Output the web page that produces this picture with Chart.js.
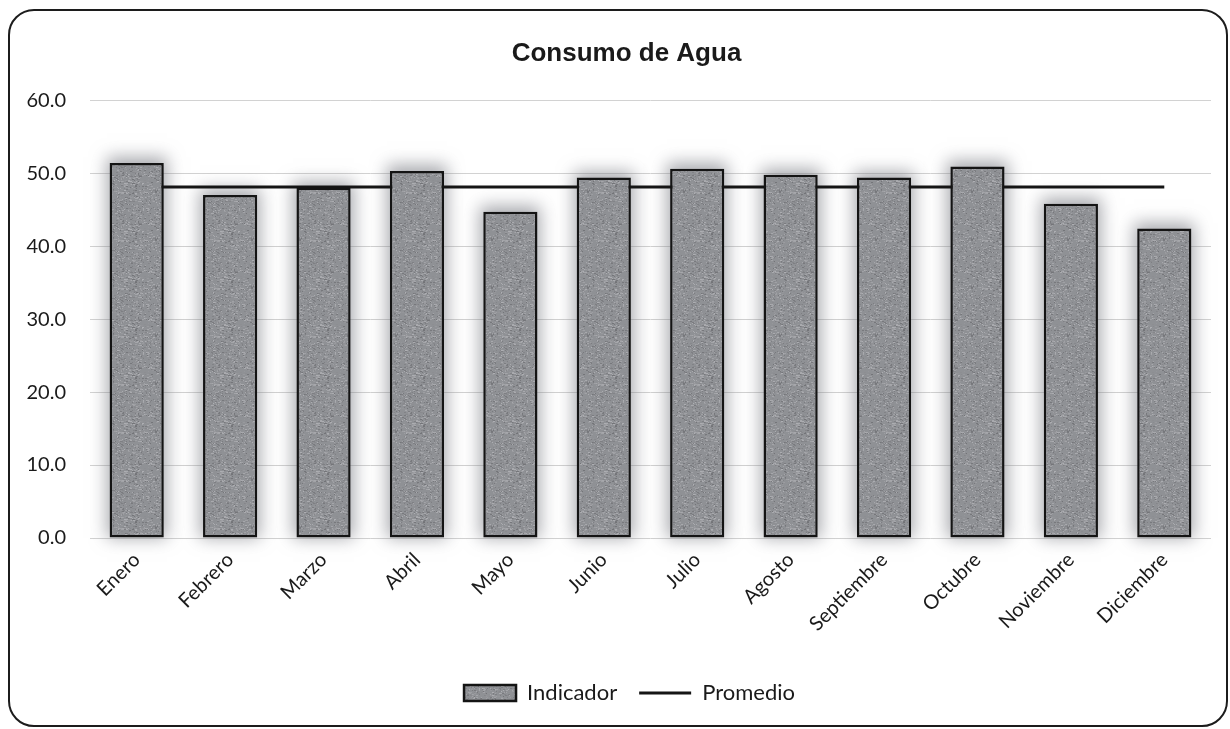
<!DOCTYPE html>
<html>
<head>
<meta charset="utf-8">
<script src="https://cdn.jsdelivr.net/npm/chart.js@4"></script>
<style>
    html, body { margin: 0; padding: 0; background: #fff; }
    #wrap { position: relative; width: 1230px; height: 729px; overflow: hidden; }
    #frame {
        position: absolute; left: 8px; top: 9px; width: 1216px; height: 714px;
        border: 2px solid #1c1c1c; border-radius: 26px; pointer-events: none;
    }
    canvas { position: absolute; left: 0; top: 0; }
</style>
</head>
<body>
<div id="wrap">
    <canvas id="chart" width="1230" height="729"></canvas>
    <div id="frame"></div>
</div>
<script>
const months = ["Enero", "Febrero", "Marzo", "Abril", "Mayo", "Junio", "Julio", "Agosto", "Septiembre", "Octubre", "Noviembre", "Diciembre"];
const indicador = [51.4, 47.0, 48.0, 50.3, 44.7, 49.4, 50.6, 49.8, 49.4, 50.9, 45.8, 42.4];
const promedio = [48.1, 48.1, 48.1, 48.1, 48.1, 48.1, 48.1, 48.1, 48.1, 48.1, 48.1, 48.1];
const yTicks = [0, 10, 20, 30, 40, 50, 60];

const tickFont = { family: "Lato", size: 20 };

// grainy grey fill, the original is a scanned print
function grain() {
    const c = document.createElement("canvas");
    c.width = c.height = 48;
    const g = c.getContext("2d");
    g.fillStyle = "#8f9195";
    g.fillRect(0, 0, 48, 48);
    let s = 7;
    const next = () => (s = (s * 16807) % 2147483647);
    for (let i = 0; i < 800; i++) {
        const x = next() % 48, y = next() % 48, v = 115 + next() % 60;
        g.fillStyle = `rgb(${v},${v + 1},${v + 5})`;
        g.fillRect(x, y, 1 + next() % 2, 1);
    }
    return g.createPattern(c, "repeat");
}
const barFill = grain();

// soft grey glow behind the bars (bar elements clip their own shadow)
const barGlow = {
    id: "barGlow",
    beforeDatasetsDraw(chart) {
        const ctx = chart.ctx;
        chart.getSortedVisibleDatasetMetas().forEach(meta => {
            if (meta.type !== "bar") return;
            meta.data.forEach(bar => {
                const p = bar.getProps(["x", "y", "base", "width"], true);
                ctx.save();
                ctx.shadowColor = "rgba(110,112,120,0.6)";
                ctx.shadowBlur = 16;
                ctx.shadowOffsetX = 10000;
                ctx.fillStyle = "#000";
                ctx.fillRect(p.x - p.width / 2 - 10000 - 3, p.y - 6, p.width + 6, p.base - p.y + 6);
                ctx.restore();
            });
        });
    }
};

// title and legend sit a bit right of the canvas centre in the original
const nudge = {
    id: "nudge",
    afterLayout(chart) {
        chart.titleBlock.left += 21;
        chart.titleBlock.right += 21;
        chart.legend.left += 24;
        chart.legend.right += 24;
    }
};

new Chart(document.getElementById("chart"), {
    type: "bar",
    data: {
        labels: months,
        datasets: [
            {
                label: "Indicador",
                data: indicador,
                backgroundColor: barFill,
                borderColor: "#141414",
                borderWidth: 2.5,
                borderSkipped: false,
                categoryPercentage: 1,
                barPercentage: 0.58,
                pointStyle: "rect",
                order: 1
            },
            {
                type: "line",
                label: "Promedio",
                data: promedio,
                borderColor: "#151515",
                backgroundColor: "#151515",
                borderWidth: 3,
                pointRadius: 0,
                pointStyle: "line",
                order: 2
            }
        ]
    },
    options: {
        responsive: false,
        animation: false,
        layout: { padding: { top: 20, right: 19, left: 0, bottom: 15 } },
        plugins: {
            title: {
                display: true,
                text: "Consumo de Agua",
                color: "#1a1a1a",
                font: { family: "Liberation Sans", size: 26, weight: "bold" },
                padding: { top: 18, bottom: 31 }
            },
            legend: {
                position: "bottom",
                labels: {
                    usePointStyle: true,
                    pointStyleWidth: 52,
                    boxHeight: 16,
                    color: "#1a1a1a",
                    font: { family: "Lato", size: 22 },
                    padding: 22
                }
            },
            tooltip: { enabled: false }
        },
        scales: {
            x: {
                grid: { display: false },
                border: { display: false },
                ticks: {
                    color: "#1a1a1a",
                    font: tickFont,
                    minRotation: 45,
                    maxRotation: 45,
                    padding: 2
                },
                afterFit: s => { s.height = 122; }
            },
            y: {
                min: 0,
                max: 60,
                afterBuildTicks: s => { s.ticks = yTicks.map(v => ({ value: v })); },
                grid: { color: "#d2d2d2", lineWidth: 1, drawTicks: false },
                border: { display: false },
                ticks: {
                    color: "#1a1a1a",
                    font: tickFont,
                    padding: 24,
                    callback: v => v.toFixed(1)
                },
                afterFit: s => { s.width = 90; }
            }
        }
    },
    plugins: [barGlow, nudge]
});
</script>
</body>
</html>
